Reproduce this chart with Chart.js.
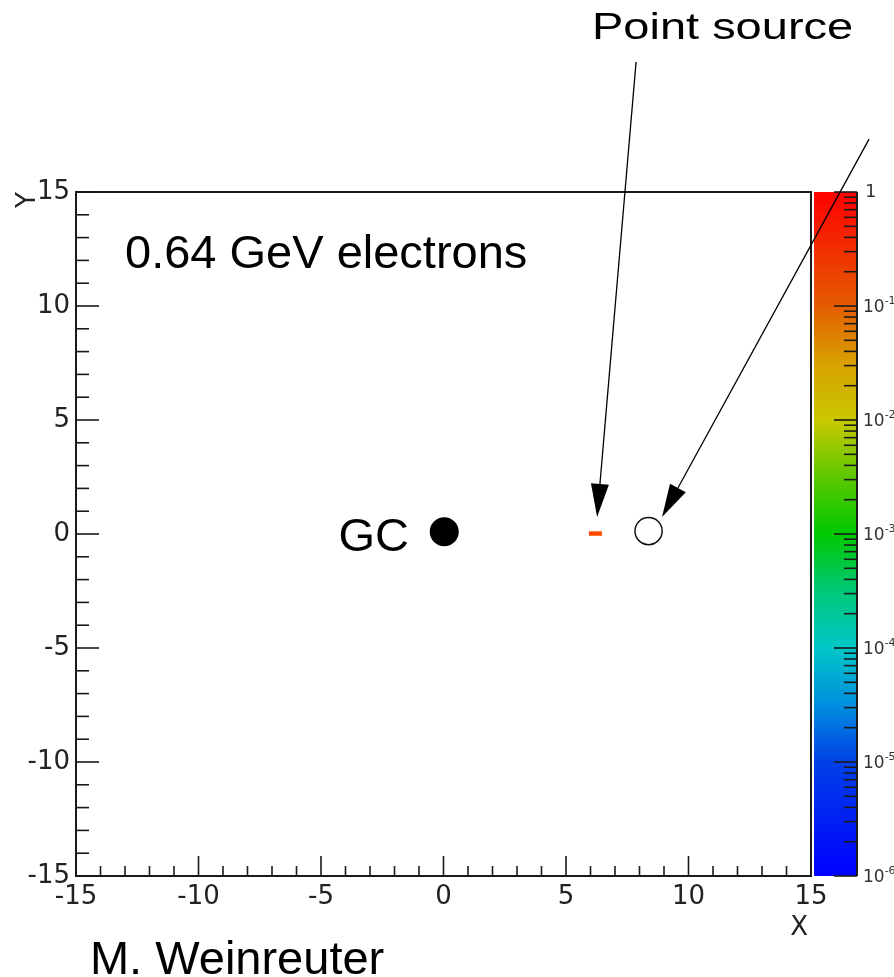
<!DOCTYPE html>
<html>
<head>
<meta charset="utf-8">
<script src="https://cdn.jsdelivr.net/npm/chart.js@4.4.0/dist/chart.umd.min.js"></script>
<style>
  html, body { margin: 0; padding: 0; background: #fff; }
  canvas { display: block; }
</style>
</head>
<body>
<canvas id="map" width="894" height="977"></canvas>
<script>
// Face-on map of the Galactic plane, coordinates in kpc
const axisTicks = [-15, -10, -5, 0, 5, 10, 15];
const axisTickLabels = ['-15', '-10', '-5', '0', '5', '10', '15'];

const galacticCentre = [{ x: 0.03, y: 0.1 }];
const sunPosition = [{ x: 8.37, y: 0.13 }];
const pointSource = [{ x: 6.2, y: 0.02 }];

// relative electron density scale (log)
const densityDecades = [1, 1e-1, 1e-2, 1e-3, 1e-4, 1e-5, 1e-6];
const densityExponents = ['', '-1', '-2', '-3', '-4', '-5', '-6'];
const paletteStops = [
  [0, '#ff0000'],
  [1 / 6, '#e45c00'],
  [1.5 / 6, '#d9a000'],
  [2 / 6, '#c9c800'],
  [2.5 / 6, '#5cc800'],
  [3 / 6, '#00c800'],
  [3.5 / 6, '#00c878'],
  [4 / 6, '#00c6c8'],
  [4.5 / 6, '#008ede'],
  [5 / 6, '#0040e6'],
  [1, '#0000ff']
];

// annotation arrows, in kpc
const arrows = [
  { from: { x: 7.86, y: 20.7 }, to: { x: 6.27, y: 0.75 } },
  { from: { x: 17.37, y: 17.32 }, to: { x: 8.92, y: 0.75 } }
];

// free text, anchored in kpc
const notes = [
  { text: 'Point source', x: 6.06, y: 21.73, size: 37, stretch: 1.27, align: 'left' },
  { text: '0.64 GeV electrons', x: -13.0, y: 11.67, size: 47, stretch: 1, align: 'left' },
  { text: 'GC', x: -1.41, y: -0.75, size: 47, stretch: 1, align: 'right' },
  { text: 'M. Weinreuter', x: -14.43, y: -19.3, size: 47, stretch: 1, align: 'left' }
];

const tickFont = { family: 'DejaVu Sans', size: 26 };
const ink = '#1a1a1a';

const mapDecor = {
  id: 'mapDecor',
  afterDraw(chart) {
    const { ctx, chartArea: a, scales } = chart;
    const sx = scales.x, sy = scales.y, sc = scales.c;
    ctx.save();

    // frame
    ctx.strokeStyle = ink;
    ctx.lineWidth = 2;
    ctx.strokeRect(a.left, a.top, a.right - a.left, a.bottom - a.top);

    // inward ticks on the bottom and left axes
    ctx.lineWidth = 1.6;
    for (let v = -15; v <= 15; v++) {
      const major = v % 5 === 0;
      const px = sx.getPixelForValue(v);
      ctx.beginPath();
      ctx.moveTo(px, a.bottom);
      ctx.lineTo(px, a.bottom - (major ? 20 : 10));
      ctx.stroke();
      const py = sy.getPixelForValue(v);
      ctx.beginPath();
      ctx.moveTo(a.left, py);
      ctx.lineTo(a.left + (major ? 23 : 13), py);
      ctx.stroke();
    }

    // axis titles
    ctx.fillStyle = '#222';
    ctx.font = '26px "DejaVu Sans"';
    ctx.textAlign = 'right';
    ctx.textBaseline = 'alphabetic';
    ctx.fillText('X', a.right - 3, a.bottom + 59);
    ctx.save();
    ctx.translate(a.left - 41, a.top);
    ctx.rotate(-Math.PI / 2);
    ctx.fillText('Y', 0, 0);
    ctx.restore();

    // colour bar
    const bx0 = a.right + 3, bx1 = a.right + 46;
    const top = sc.getPixelForValue(1), bot = sc.getPixelForValue(1e-6);
    const grad = ctx.createLinearGradient(0, top, 0, bot);
    paletteStops.forEach(([o, col]) => grad.addColorStop(o, col));
    ctx.fillStyle = grad;
    ctx.fillRect(bx0, top, bx1 - bx0, bot - top);

    ctx.strokeStyle = ink;
    ctx.lineWidth = 2;
    ctx.beginPath();
    ctx.moveTo(bx1, top);
    ctx.lineTo(bx1, bot);
    ctx.stroke();

    ctx.lineWidth = 1.6;
    densityDecades.forEach((d, i) => {
      const py = sc.getPixelForValue(d);
      ctx.beginPath();
      ctx.moveTo(bx1, py);
      ctx.lineTo(bx1 - 23, py);
      ctx.stroke();
      if (i < densityDecades.length - 1) {
        for (let k = 2; k <= 9; k++) {
          const my = sc.getPixelForValue(k * d / 10);
          ctx.beginPath();
          ctx.moveTo(bx1, my);
          ctx.lineTo(bx1 - 13, my);
          ctx.stroke();
        }
      }
    });

    // colour bar labels
    ctx.fillStyle = '#333';
    ctx.textAlign = 'left';
    ctx.textBaseline = 'middle';
    densityDecades.forEach((d, i) => {
      const py = sc.getPixelForValue(d);
      const lx = bx1 + 6;
      if (densityExponents[i] === '') {
        ctx.font = '18px "DejaVu Sans"';
        ctx.fillText('1', lx + 2, py);
      } else {
        ctx.font = '17px "DejaVu Sans"';
        ctx.fillText('10', lx, py + 2);
        const w = ctx.measureText('10').width;
        ctx.font = '11px "DejaVu Sans"';
        ctx.fillText(densityExponents[i], lx + w, py - 5);
      }
    });

    // arrows
    ctx.strokeStyle = '#000';
    ctx.fillStyle = '#000';
    ctx.lineWidth = 1.3;
    arrows.forEach(ar => {
      const x0 = sx.getPixelForValue(ar.from.x), y0 = sy.getPixelForValue(ar.from.y);
      const x1 = sx.getPixelForValue(ar.to.x), y1 = sy.getPixelForValue(ar.to.y);
      const ang = Math.atan2(y1 - y0, x1 - x0);
      const len = 33, half = 9;
      const bxp = x1 - len * Math.cos(ang), byp = y1 - len * Math.sin(ang);
      ctx.beginPath();
      ctx.moveTo(x0, y0);
      ctx.lineTo(bxp, byp);
      ctx.stroke();
      ctx.beginPath();
      ctx.moveTo(x1, y1);
      ctx.lineTo(bxp + half * Math.sin(ang), byp - half * Math.cos(ang));
      ctx.lineTo(bxp - half * Math.sin(ang), byp + half * Math.cos(ang));
      ctx.closePath();
      ctx.fill();
    });

    // text notes
    ctx.fillStyle = '#000';
    ctx.textBaseline = 'alphabetic';
    notes.forEach(n => {
      ctx.save();
      ctx.translate(sx.getPixelForValue(n.x), sy.getPixelForValue(n.y));
      ctx.scale(n.stretch, 1);
      ctx.font = n.size + 'px "Liberation Sans", Arial, sans-serif';
      ctx.textAlign = n.align;
      ctx.fillText(n.text, 0, 0);
      ctx.restore();
    });

    ctx.restore();
  }
};

const setTicks = scale => {
  scale.ticks = axisTicks.map(v => ({ value: v }));
};
const tickLabel = v => axisTickLabels[axisTicks.indexOf(v)] ?? '';

new Chart(document.getElementById('map'), {
  type: 'scatter',
  data: {
    datasets: [
      {
        label: 'GC',
        data: galacticCentre,
        pointRadius: 14.5,
        pointBackgroundColor: '#000',
        pointBorderWidth: 0
      },
      {
        label: 'Sun',
        data: sunPosition,
        pointRadius: 13.6,
        pointBackgroundColor: '#fff',
        pointBorderColor: '#111',
        pointBorderWidth: 1.5
      },
      {
        label: 'Point source',
        data: pointSource,
        pointStyle: 'line',
        pointRadius: 6.5,
        pointBorderColor: '#ff4a00',
        pointBorderWidth: 4.5
      }
    ]
  },
  options: {
    responsive: false,
    animation: false,
    events: [],
    layout: { padding: { top: 192, right: 83, bottom: 61, left: 0 } },
    plugins: { legend: { display: false }, tooltip: { enabled: false } },
    scales: {
      x: {
        type: 'linear',
        position: 'bottom',
        min: -15, max: 15,
        afterBuildTicks: setTicks,
        afterFit: s => { s.height = 40; },
        grid: { display: false, drawTicks: false },
        border: { display: false },
        ticks: {
          autoSkip: false, maxRotation: 0, padding: 6,
          font: tickFont, color: '#222',
          callback: tickLabel
        }
      },
      y: {
        type: 'linear',
        position: 'left',
        min: -15, max: 15,
        afterBuildTicks: setTicks,
        afterFit: s => { s.width = 76; },
        grid: { display: false, drawTicks: false },
        border: { display: false },
        ticks: {
          autoSkip: false, padding: 6,
          font: tickFont, color: '#222',
          callback: tickLabel
        }
      },
      c: {
        type: 'logarithmic',
        position: 'right',
        min: 1e-6, max: 1,
        display: false
      }
    }
  },
  plugins: [mapDecor]
});
</script>
</body>
</html>
